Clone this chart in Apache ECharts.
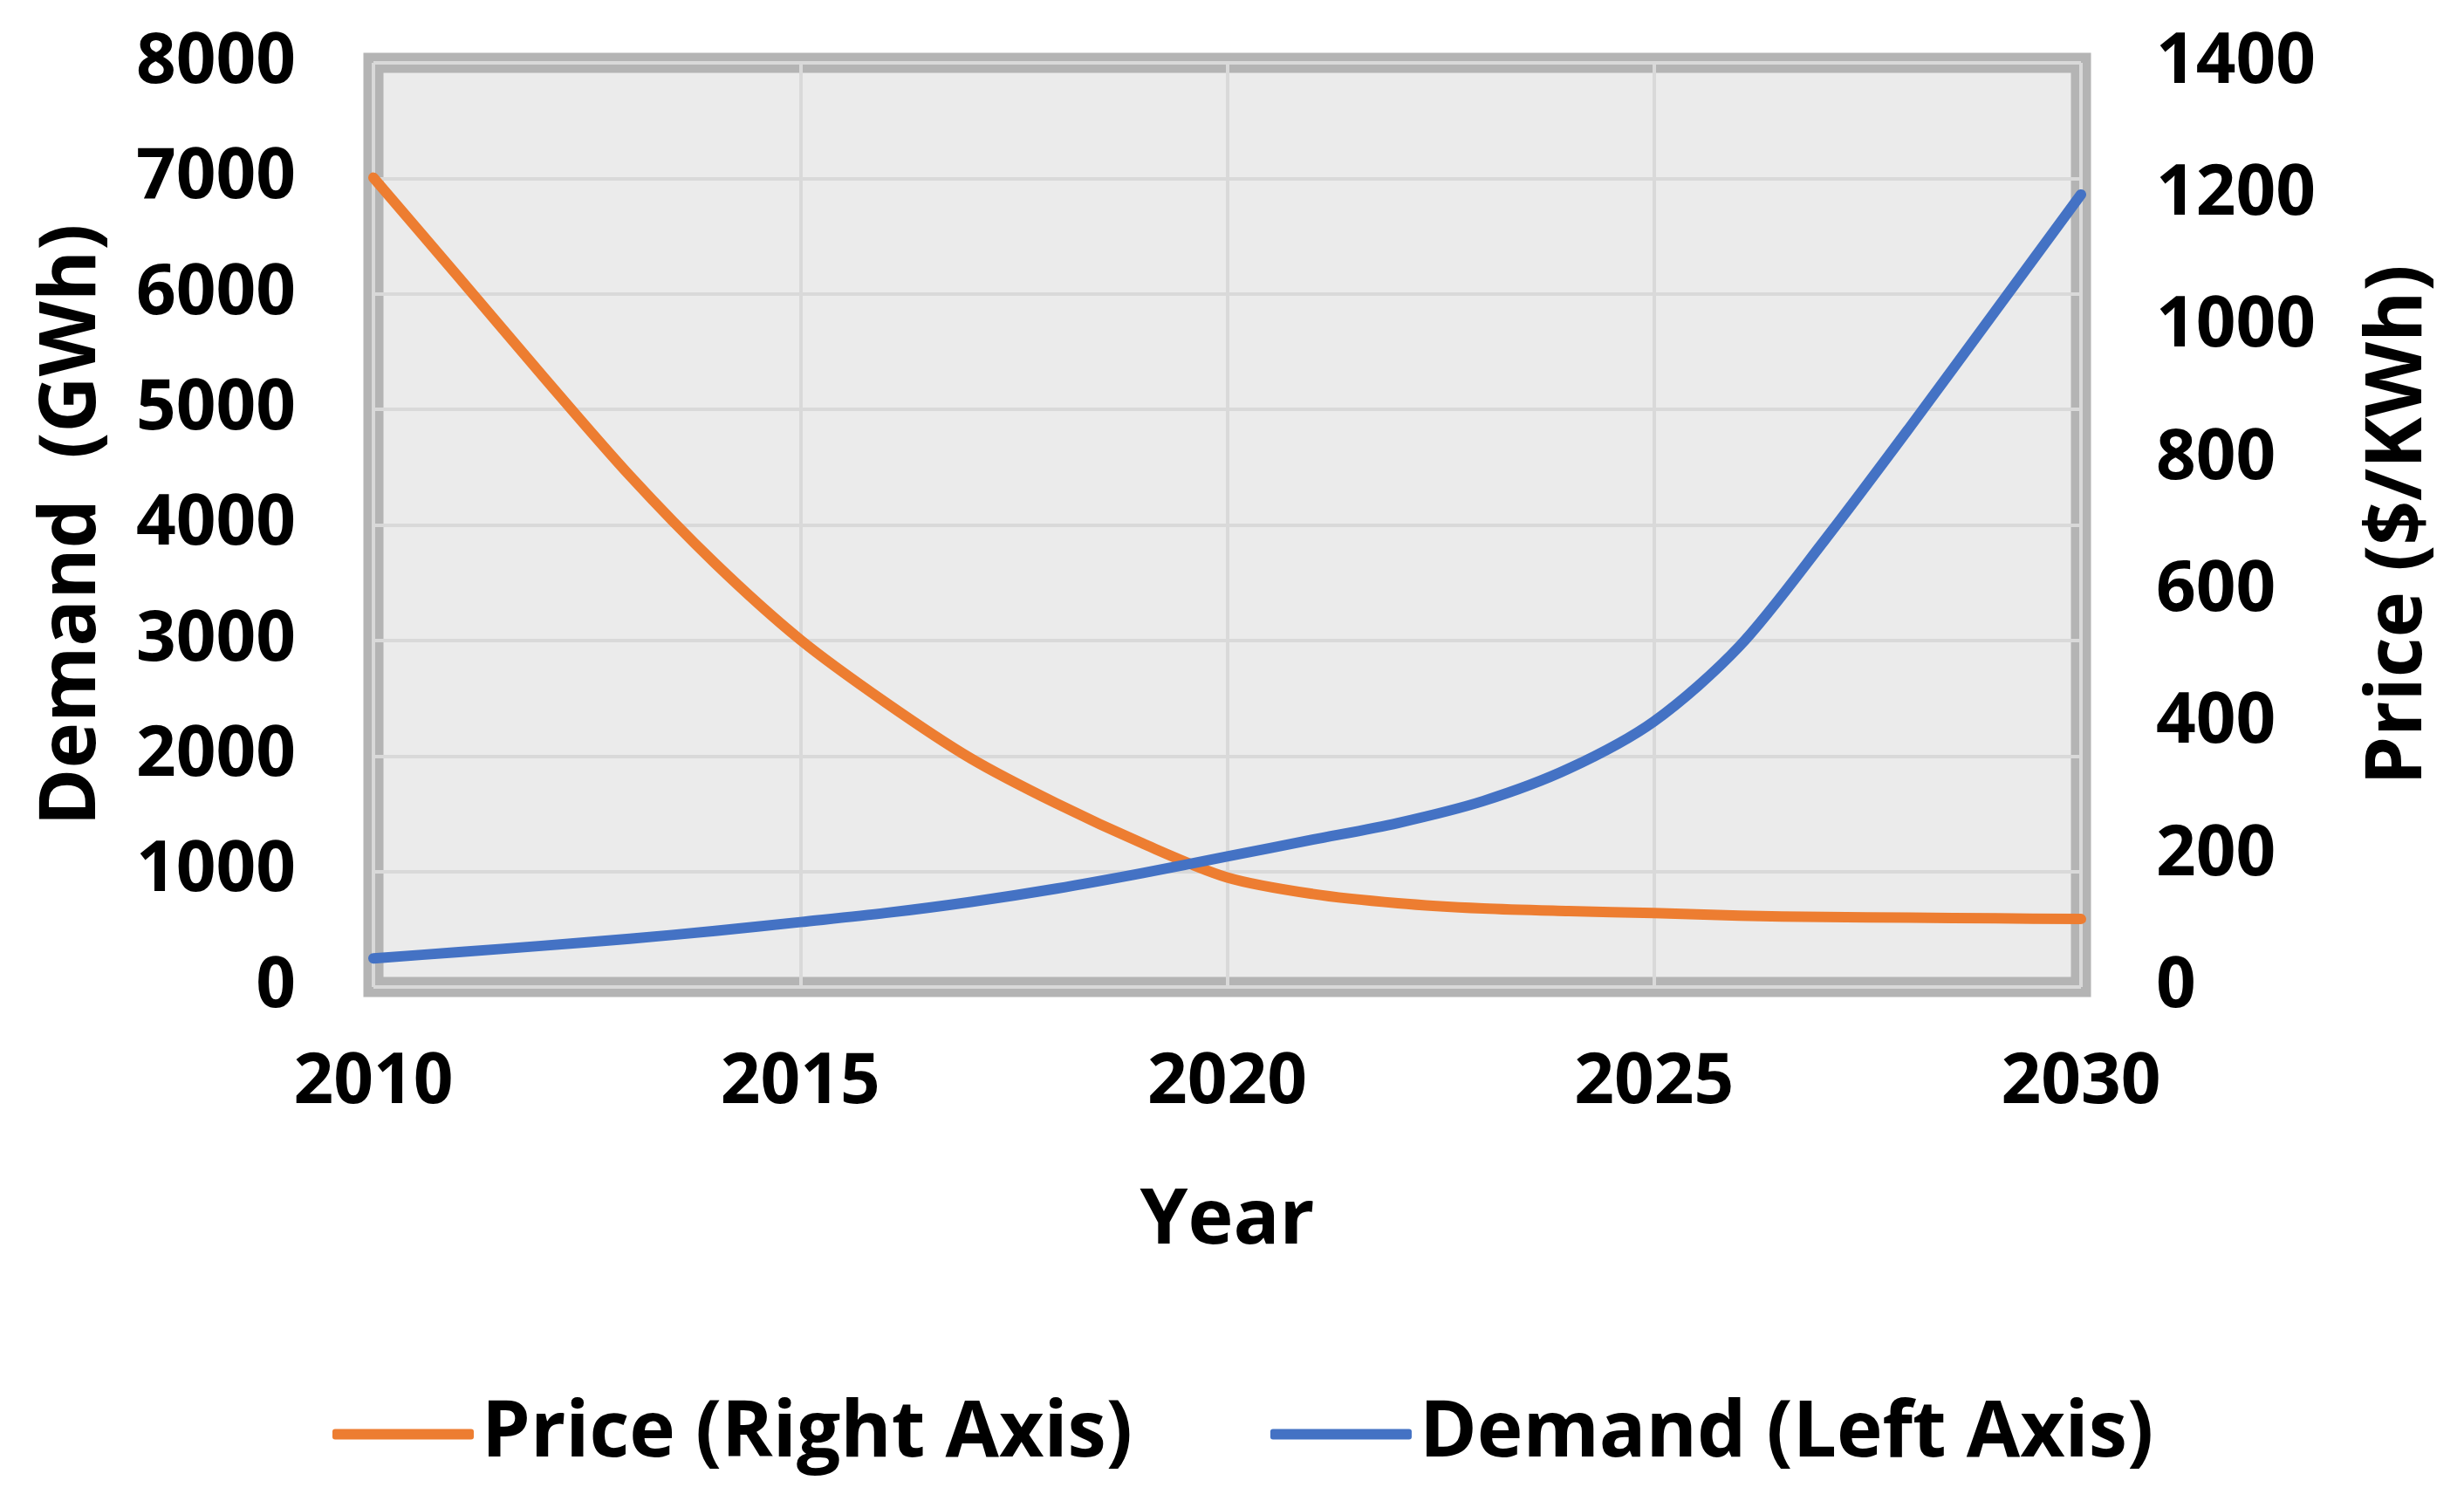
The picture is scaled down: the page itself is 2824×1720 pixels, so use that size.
<!DOCTYPE html>
<html>
<head>
<meta charset="utf-8">
<script src="https://cdn.jsdelivr.net/npm/echarts@6/dist/echarts.min.js"></script>
<style>
html,body{margin:0;padding:0;background:#fff;}
#chart{width:2824px;height:1720px;}
</style>
</head>
<body>
<div id="chart"></div>
<script>
const years = [2010,2011,2012,2013,2014,2015,2016,2017,2018,2019,2020,2021,2022,2023,2024,2025,2026,2027,2028,2029,2030];
const price = [1226,1075,923,775,642,526,431,346,278,218,166,141,127,119,115,112,108,106,105,104,103];
const demand = [248,302,358,418,485,562,641,737,852,985,1130,1275,1420,1610,1890,2300,2950,3870,4850,5855,6860];
const xTicks = {min:2010, max:2030, interval:5};
const leftTicks = {min:0, max:8000, interval:1000};
const rightTicks = {min:0, max:1400, interval:200};

const FONT = "'Open Sans', 'Noto Sans', 'DejaVu Sans', sans-serif";
const chart = echarts.init(document.getElementById('chart'));
const pair = (xs, ys) => xs.map((x, i) => [x, ys[i]]);

chart.setOption({
  backgroundColor: '#ffffff',
  animation: false,
  textStyle: {fontFamily: FONT},
  grid: {
    left: 428, right: 439, top: 72, bottom: 589,
    show: true, backgroundColor: '#ebebeb',
    borderColor: '#b4b4b4', borderWidth: 23
  },
  legend: {
    left: 376, top: 1594,
    itemWidth: 162, itemHeight: 12, itemGap: 158,
    icon: 'roundRect',
    textStyle: {fontFamily: FONT, fontWeight: 'bold', fontSize: 89, color: '#000', padding: [0,0,0,4]},
    data: ['Price (Right Axis)', 'Demand (Left Axis)']
  },
  xAxis: {
    type: 'value', min: xTicks.min, max: xTicks.max, interval: xTicks.interval,
    name: 'Year', nameLocation: 'middle', nameGap: 225,
    nameTextStyle: {fontFamily: FONT, fontWeight: 'bold', fontSize: 88, color: '#000'},
    axisLine: {show: false}, axisTick: {show: false},
    axisLabel: {fontFamily: FONT, fontWeight: 'bold', fontSize: 80, color: '#000', margin: 70, formatter: v => String(v)},
    splitLine: {show: true, lineStyle: {color: '#d9d9d9', width: 4}}
  },
  yAxis: [
    {
      type: 'value', min: leftTicks.min, max: leftTicks.max, interval: leftTicks.interval,
      name: 'Demand  (GWh)', nameLocation: 'middle', nameGap: 300, nameRotate: 90,
      nameTextStyle: {fontFamily: FONT, fontWeight: 'bold', fontSize: 89, color: '#000'},
      axisLine: {show: false}, axisTick: {show: false},
      axisLabel: {fontFamily: FONT, fontWeight: 'bold', fontSize: 80, color: '#000', margin: 89, formatter: v => String(v)},
      splitLine: {show: true, lineStyle: {color: '#d9d9d9', width: 4}}
    },
    {
      type: 'value', min: rightTicks.min, max: rightTicks.max, interval: rightTicks.interval,
      name: 'Price ($/KWh)', nameLocation: 'middle', nameGap: 320, nameRotate: 90,
      nameTextStyle: {fontFamily: FONT, fontWeight: 'bold', fontSize: 89, color: '#000'},
      axisLine: {show: false}, axisTick: {show: false},
      axisLabel: {fontFamily: FONT, fontWeight: 'bold', fontSize: 80, color: '#000', margin: 86, formatter: v => String(v)},
      splitLine: {show: false}
    }
  ],
  series: [
    {
      name: 'Price (Right Axis)', type: 'line', yAxisIndex: 1, smooth: 0.3,
      showSymbol: false, symbol: 'none', clip: false,
      lineStyle: {color: '#ED7D31', width: 12, cap: 'round', join: 'round'},
      itemStyle: {color: '#ED7D31'},
      data: pair(years, price)
    },
    {
      name: 'Demand (Left Axis)', type: 'line', yAxisIndex: 0, smooth: 0.3,
      showSymbol: false, symbol: 'none', clip: false,
      lineStyle: {color: '#4472C4', width: 12, cap: 'round', join: 'round'},
      itemStyle: {color: '#4472C4'},
      data: pair(years, demand)
    }
  ]
});
</script>
</body>
</html>
